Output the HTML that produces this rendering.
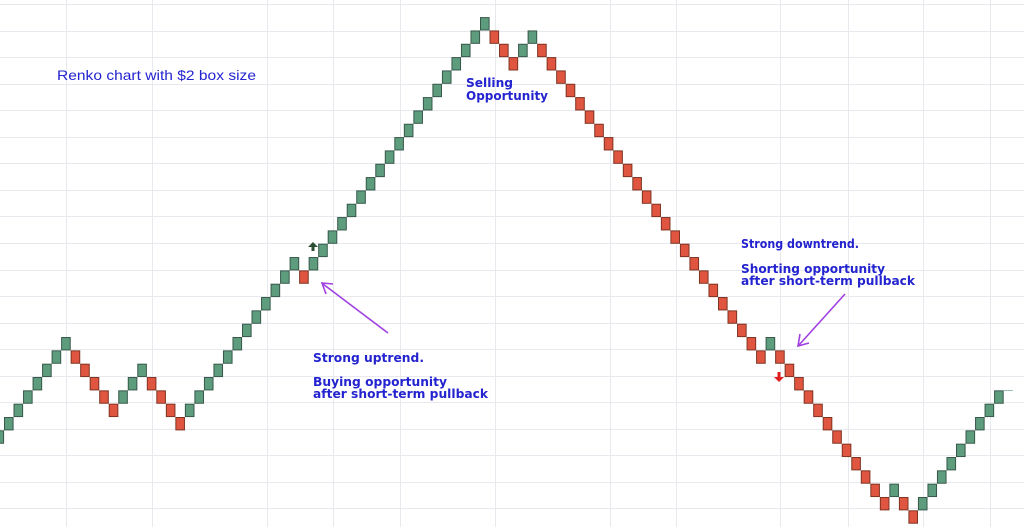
<!DOCTYPE html>
<html><head><meta charset="utf-8">
<style>
html,body{margin:0;padding:0;background:#fff;width:1024px;height:527px;overflow:hidden}
svg{display:block}
text{font-family:"DejaVu Sans","Liberation Sans",sans-serif;fill:#2323d0;font-weight:bold;font-size:12px}
</style></head>
<body>
<svg id="s" width="1024" height="527" xmlns="http://www.w3.org/2000/svg">
<g id="grid" stroke="#e8e8ef" stroke-width="1"></g>
<g id="bricks"></g>
<line x1="1003" y1="390.5" x2="1013" y2="390.5" stroke="#9bbfae" stroke-width="1"/>
<text x="57" y="80" textLength="199" lengthAdjust="spacingAndGlyphs" style="font-family:'Liberation Sans',sans-serif;font-weight:normal;font-size:14px">Renko chart with $2 box size</text>
<text x="466" y="87" textLength="47" lengthAdjust="spacingAndGlyphs">Selling</text>
<text x="466" y="100" textLength="82" lengthAdjust="spacingAndGlyphs">Opportunity</text>
<text x="313" y="362" textLength="111" lengthAdjust="spacingAndGlyphs">Strong uptrend.</text>
<text x="313" y="386" textLength="134" lengthAdjust="spacingAndGlyphs">Buying opportunity</text>
<text x="313" y="398" textLength="175" lengthAdjust="spacingAndGlyphs">after short-term pullback</text>
<text x="741" y="248" textLength="118" lengthAdjust="spacingAndGlyphs">Strong downtrend.</text>
<text x="741" y="273" textLength="144" lengthAdjust="spacingAndGlyphs">Shorting opportunity</text>
<text x="741" y="285" textLength="174" lengthAdjust="spacingAndGlyphs">after short-term pullback</text>
<g stroke="#a040e0" stroke-width="1.6" fill="none">
<line x1="388" y1="333" x2="323" y2="284"/>
<polyline points="333,284 322,283 326,294"/>
<line x1="845" y1="294" x2="799" y2="345"/>
<polyline points="800,334 798,346 809,343"/>
</g>
<path d="M313,242 L308,247 L311.5,247 L311.5,251 L314.5,251 L314.5,247 L318,247 Z" fill="#2d4d35"/>
<path d="M779,382 L774,377 L777.5,377 L777.5,372 L780.5,372 L780.5,377 L784,377 Z" fill="#e02020"/>
</svg>
<script>
var ns="http://www.w3.org/2000/svg";
var g=document.getElementById("grid");
var xs=[66,152,267,333,400,495,610,676,780,848,923,990];
xs.forEach(function(x){var l=document.createElementNS(ns,"line");l.setAttribute("x1",x+.5);l.setAttribute("x2",x+.5);l.setAttribute("y1",0);l.setAttribute("y2",527);g.appendChild(l);});
for(var y=4;y<527;y+=26.55){var l=document.createElementNS(ns,"line");var yy=Math.round(y)+.5;l.setAttribute("x1",0);l.setAttribute("x2",1024);l.setAttribute("y1",yy);l.setAttribute("y2",yy);g.appendChild(l);}
var moves=[[1,7],[-1,5],[1,3],[-1,4],[1,12],[-1,1],[1,19],[-1,3],[1,2],[-1,24],[1,1],[-1,12],[1,1],[-1,2],[1,9]];
var b=document.getElementById("bricks");
function brick(col,lvl,up){var r=document.createElementNS(ns,"rect");
r.setAttribute("x",(4+col*9.52+0.5).toFixed(2));r.setAttribute("y",(417-lvl*13.33+0.5).toFixed(2));
r.setAttribute("width",8.6);r.setAttribute("height",12.4);
r.setAttribute("fill",up?"#5e9c7e":"#e0553f");r.setAttribute("stroke",up?"#37584a":"#7e3322");r.setAttribute("stroke-width",1);b.appendChild(r);}
var col=-1,lvl=-1;brick(col,lvl,true);
moves.forEach(function(m){for(var i=0;i<m[1];i++){col++;lvl+=m[0];brick(col,lvl,m[0]>0);}});
</script>
</body></html>
